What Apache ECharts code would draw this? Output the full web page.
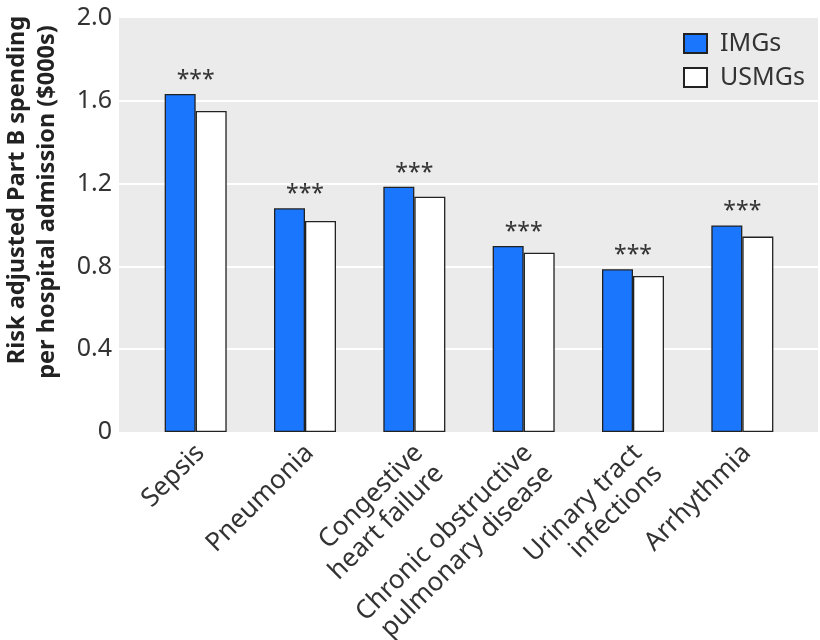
<!DOCTYPE html>
<html>
<head>
<meta charset="utf-8">
<script src="https://cdn.jsdelivr.net/npm/echarts@6/dist/echarts.min.js"></script>
<style>html,body{margin:0;padding:0;background:#fff}#c{width:820px;height:640px}</style>
</head>
<body>
<div id="c"></div>
<script>
const categories = ['Sepsis', 'Pneumonia', 'Congestive\nheart failure', 'Chronic obstructive\npulmonary disease', 'Urinary tract\ninfections', 'Arrhythmia'];
const imgValues = [1.633, 1.081, 1.185, 0.899, 0.786, 0.998];
const usmgValues = [1.551, 1.019, 1.137, 0.866, 0.754, 0.944];
const significance = ['***', '***', '***', '***', '***', '***'];
const seriesNames = ['IMGs', 'USMGs'];
const yTicks = [0, 0.4, 0.8, 1.2, 1.6, 2.0];
const yTitle = ['Risk adjusted Part B spending', 'per hospital admission ($000s)'];

const FONT = 'Noto Sans';
const TXT = '#333333';
const chart = echarts.init(document.getElementById('c'), null, {renderer: 'canvas'});
chart.setOption({
  animation: false,
  textStyle: {fontFamily: FONT},
  grid: [
    {left: 119, right: 2, top: 18, bottom: 208, show: true, backgroundColor: '#ebebeb', borderWidth: 0, containLabel: false, outerBoundsMode: 'none'},
    {left: 141, right: 23, top: 18, bottom: 208, containLabel: false, outerBoundsMode: 'none'}
  ],
  legend: {
    orient: 'vertical',
    left: 678, top: 26,
    itemWidth: 23, itemHeight: 19, itemGap: 9,
    icon: 'rect',
    textStyle: {fontSize: 25, color: TXT, fontFamily: FONT, padding: [0, 0, 0, 8]},
    data: seriesNames
  },
  xAxis: [
    {gridIndex: 0, type: 'value', show: false, min: 0, max: 1},
    {
      gridIndex: 1, type: 'category', data: categories,
      axisLine: {show: false}, axisTick: {show: false},
      axisLabel: {
        interval: 0, rotate: 45, fontSize: 26, color: TXT, fontFamily: FONT,
        margin: 1, align: 'right', verticalAlign: 'top', lineHeight: 29,
        padding: [0, 8, 0, 0]
      }
    }
  ],
  yAxis: [
    {
      gridIndex: 0, type: 'value', min: yTicks[0], max: yTicks[yTicks.length - 1], interval: 0.4,
      axisLine: {show: false}, axisTick: {show: false},
      splitLine: {show: true, showMinLine: false, showMaxLine: false, lineStyle: {color: '#ffffff', width: 2}},
      axisLabel: {
        fontSize: 25, color: TXT, fontFamily: FONT, margin: 7,
        formatter: v => v === 0 ? '0' : v.toFixed(1)
      }
    },
    {gridIndex: 1, type: 'value', show: false, min: 0, max: 2}
  ],
  graphic: [
    {
      type: 'text', x: 17, y: 190, rotation: Math.PI / 2,
      style: {text: yTitle[0], font: 'bold 23.5px "' + FONT + '"', fill: '#222', align: 'center', verticalAlign: 'middle'}
    },
    {
      type: 'text', x: 47, y: 202, rotation: Math.PI / 2,
      style: {text: yTitle[1], font: 'bold 23.5px "' + FONT + '"', fill: '#222', align: 'center', verticalAlign: 'middle'}
    }
  ],
  series: [
    {
      name: seriesNames[0], type: 'bar', xAxisIndex: 1, yAxisIndex: 1,
      data: imgValues, barWidth: 31, barGap: '0%',
      itemStyle: {color: '#1a76fd', borderColor: '#222222', borderWidth: 1.3},
      label: {
        show: true, position: 'top', offset: [15.5, 3], fontSize: 23, color: TXT, fontFamily: FONT,
        formatter: p => significance[p.dataIndex]
      }
    },
    {
      name: seriesNames[1], type: 'bar', xAxisIndex: 1, yAxisIndex: 1,
      data: usmgValues, barWidth: 31, barGap: '0%',
      itemStyle: {color: '#ffffff', borderColor: '#222222', borderWidth: 1.3}
    }
  ]
});
</script>
</body>
</html>
